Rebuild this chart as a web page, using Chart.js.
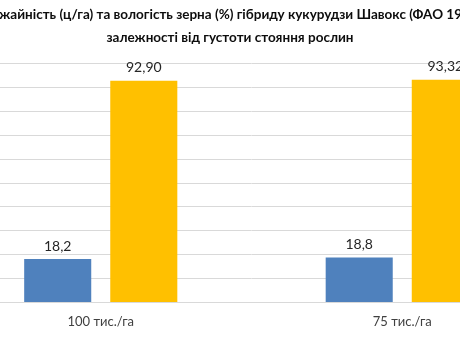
<!DOCTYPE html>
<html>
<head>
<meta charset="utf-8">
<script src="https://cdn.jsdelivr.net/npm/chart.js@4"></script>
<style>
html,body{margin:0;padding:0;width:460px;height:345px;overflow:hidden;background:#fff;}
#wrap{position:absolute;left:-93px;top:0;width:646px;height:345px;}
</style>
</head>
<body>
<div id="wrap"><canvas id="c" width="646" height="345"></canvas></div>
<script>
const categories = ["100 тис./га", "75 тис./га"];
const seriesNames = ["Урожайність, ц/га", "Вологість зерна, %"];
const yieldValues = [18.2, 18.8];
const moistureValues = [92.90, 93.32];
const yieldLabels = ["18,2", "18,8"];
const moistureLabels = ["92,90", "93,32"];
const titleLines = [
  "Урожайність (ц/га) та вологість зерна (%) гібриду кукурудзи Шавокс (ФАО 190) в",
  "залежності від густоти стояння рослин"
];

const labelPlugin = {
  id: 'barLabels',
  afterDatasetsDraw(chart) {
    const ctx = chart.ctx;
    const texts = [yieldLabels, moistureLabels];
    ctx.save();
    ctx.font = '14px Lato, "Open Sans", sans-serif';
    ctx.fillStyle = '#262626';
    ctx.textAlign = 'center';
    ctx.textBaseline = 'middle';
    chart.data.datasets.forEach((ds, i) => {
      chart.getDatasetMeta(i).data.forEach((bar, j) => {
        ctx.fillText(texts[i][j], bar.x, bar.y - 13);
      });
    });
    ctx.restore();
  }
};

new Chart(document.getElementById('c'), {
  type: 'bar',
  data: {
    labels: categories,
    datasets: [
      { label: seriesNames[0], data: yieldValues, backgroundColor: '#4f81bd' },
      { label: seriesNames[1], data: moistureValues, backgroundColor: '#ffc000' }
    ]
  },
  options: {
    responsive: false,
    animation: false,
    devicePixelRatio: 1,
    categoryPercentage: 0.571,
    barPercentage: 0.779,
    layout: { padding: { left: 0, right: 0, top: 0, bottom: 3 } },
    plugins: {
      legend: { display: false },
      tooltip: { enabled: false },
      title: {
        display: true,
        text: titleLines,
        color: '#0d0d0d',
        font: { family: 'Lato, "Open Sans", sans-serif', size: 13.5, weight: 'bold', lineHeight: 1.7 },
        padding: { top: 3, bottom: 15 }
      }
    },
    scales: {
      x: {
        grid: { display: false, drawTicks: false },
        border: { display: true, color: '#d9d9d9' },
        ticks: { color: '#404040', padding: 12, font: { family: 'Lato, "Open Sans", sans-serif', size: 13 } }
      },
      y: {
        min: 0, max: 100,
        ticks: { display: false, stepSize: 10 },
        grid: { color: '#d9d9d9', drawTicks: false },
        border: { display: false },
        afterFit(scale) { scale.width = 43; }
      }
    }
  },
  plugins: [labelPlugin]
});
</script>
</body>
</html>
